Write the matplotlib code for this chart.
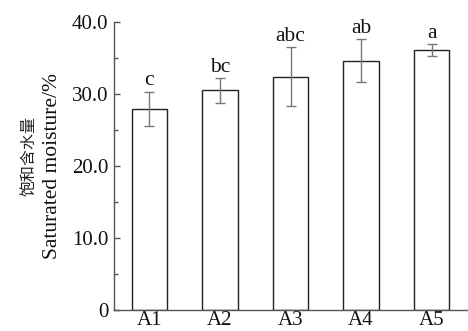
import matplotlib
matplotlib.use("Agg")
import matplotlib.pyplot as plt
from matplotlib.ticker import MultipleLocator, FixedLocator

categories = ["A1", "A2", "A3", "A4", "A5"]
values = [27.9, 30.5, 32.4, 34.6, 36.1]
errors = [2.4, 1.7, 4.1, 3.0, 0.8]
letters = ["c", "bc", "abc", "ab", "a"]
yticks = [0, 10, 20, 30, 40]
yticklabels = ["0", "10.0", "20.0", "30.0", "40.0"]

serif = ["Liberation Serif", "Noto Sans CJK SC"]
plt.rcParams["font.family"] = serif
plt.rcParams["font.size"] = 15

fig = plt.figure(figsize=(4.68, 3.31), dpi=100)
ax = fig.add_axes([114/468, 1-310/331, (467-114)/468, (310-22)/331])

x = range(len(categories))
ax.bar(x, values, width=0.5, color="white", edgecolor="#222222", linewidth=1.0, zorder=2)
ax.errorbar(x, values, yerr=errors, fmt="none", ecolor="#777777", elinewidth=1.0,
            capsize=3.5, capthick=1.0, zorder=3)
for xi, v, e, l in zip(x, values, errors, letters):
    ax.text(xi, v + e + 0.2, l, ha="center", va="bottom", fontsize=15.5, color="#111111")

ax.set_xlim(-0.5, 4.5)
ax.set_ylim(0, 40)
ax.set_xticks(list(x))
ax.set_xticklabels(categories)
ax.yaxis.set_major_locator(FixedLocator(yticks))
ax.set_yticklabels(yticklabels)
ax.yaxis.set_minor_locator(MultipleLocator(5))
ax.tick_params(axis="y", which="major", direction="in", length=4, width=1, colors="#555555",
               labelcolor="#111111", pad=4, labelsize=15)
ax.tick_params(axis="y", which="minor", direction="in", length=3, width=1, colors="#555555")
ax.tick_params(axis="x", length=0, pad=1, labelsize=15, labelcolor="#111111")
for s in ["top", "right"]:
    ax.spines[s].set_visible(False)
for s in ["left", "bottom"]:
    ax.spines[s].set_color("#555555")
    ax.spines[s].set_linewidth(1.0)

fig.text(29/468, 1-156/331, "饱和含水量", rotation=90, ha="center", va="center",
         fontsize=11.5, color="#222222", family=["Noto Sans CJK SC"])
fig.text(53/468, 1-166/331, "Saturated moisture/%", rotation=90, ha="center", va="center",
         fontsize=15.5, color="#111111", family=serif)

fig.savefig("out.png", dpi=100)
